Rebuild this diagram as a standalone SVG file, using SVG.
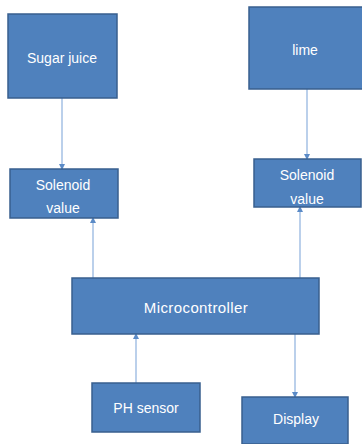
<svg xmlns="http://www.w3.org/2000/svg" width="362" height="444" viewBox="0 0 362 444">
<defs>
<marker id="ah" markerWidth="6" markerHeight="6" refX="5" refY="3" orient="auto" markerUnits="userSpaceOnUse">
<path d="M0,0 L6,3 L0,6 Z" fill="#5b8bc7"/>
</marker>
<style>
.box{fill:#4f81bd;stroke:#385f8e;stroke-width:1.5}
.lbl{font-family:"Liberation Sans",Arial,sans-serif;font-size:14px;fill:#ffffff;text-anchor:middle}
.big{font-size:15px;letter-spacing:0.4px}
.con{stroke:#a4c0e4;stroke-width:1.5;fill:none;marker-end:url(#ah)}
</style>
</defs>
<rect width="362" height="444" fill="#ffffff"/>
<g id="connectors">
<line class="con" x1="62" y1="98" x2="62" y2="169"/>
<line class="con" x1="307" y1="89" x2="307" y2="159"/>
<line class="con" x1="93" y1="278" x2="93" y2="218"/>
<line class="con" x1="300" y1="278" x2="300" y2="207"/>
<line class="con" x1="136" y1="383" x2="136" y2="334"/>
<line class="con" x1="295" y1="334" x2="295" y2="397"/>
</g>
<g id="sugar-juice">
<rect class="box" x="8" y="14" width="109" height="84"/>
<text class="lbl" x="62" y="63">Sugar juice</text>
</g>
<g id="lime">
<rect class="box" x="249" y="7" width="115" height="82"/>
<text class="lbl" x="305" y="55">lime</text>
</g>
<g id="solenoid-left">
<rect class="box" x="10" y="169" width="108" height="49"/>
<text class="lbl" x="63" y="190">Solenoid</text>
<text class="lbl" x="63" y="213">value</text>
</g>
<g id="solenoid-right">
<rect class="box" x="254" y="159" width="107" height="48"/>
<text class="lbl" x="307" y="180">Solenoid</text>
<text class="lbl" x="307" y="204">value</text>
</g>
<g id="microcontroller">
<rect class="box" x="72" y="278" width="247" height="56"/>
<text class="lbl big" x="196" y="313">Microcontroller</text>
</g>
<g id="ph-sensor">
<rect class="box" x="92" y="383" width="108" height="49"/>
<text class="lbl" x="146" y="413">PH sensor</text>
</g>
<g id="display">
<rect class="box" x="242" y="397" width="106" height="47"/>
<text class="lbl" x="296" y="424">Display</text>
</g>
</svg>
